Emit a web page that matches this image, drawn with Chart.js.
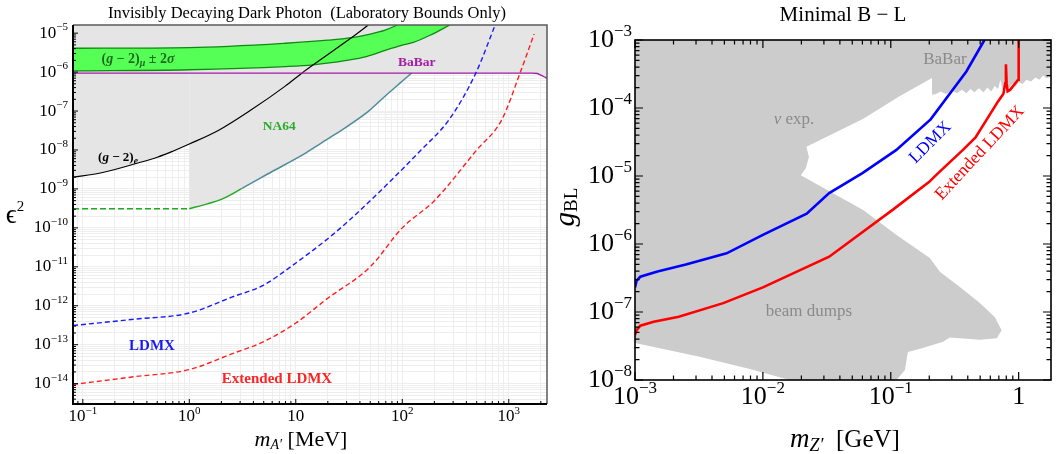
<!DOCTYPE html>
<html>
<head>
<meta charset="utf-8">
<script src="https://cdn.jsdelivr.net/npm/chart.js@4.4.1/dist/chart.umd.min.js"></script>
<style>
  html, body { margin: 0; padding: 0; background: #fff; }
  #wrap { position: relative; width: 1056px; height: 454px; overflow: hidden; }
  canvas { position: absolute; top: 0; }
</style>
</head>
<body>
<div id="wrap">
  <canvas id="darkPhoton" width="552" height="454" style="left:0"></canvas>
  <canvas id="bMinusL" width="504" height="454" style="left:552px"></canvas>
</div>
<script>
// ---------- left panel: eps^2 vs m_A' [MeV] ----------
const leftMassRange = [0.0809, 2285];
const leftEpsRange = [3.29e-15, 1.62e-5];
const leftXTicks = [0.1, 1, 10, 100, 1000];
const leftXTickExp = ['−1', '0', '', '2', '3'];
const leftYTicks = [1e-14, 1e-13, 1e-12, 1e-11, 1e-10, 1e-9, 1e-8, 1e-7, 1e-6, 1e-5];
const leftYTickExp = ['−14', '−13', '−12', '−11', '−10', '−9', '−8', '−7', '−6', '−5'];

// [mass MeV, eps^2]
const babarLine = [[0.0809, 9.4e-7], [1650, 9.4e-7], [1850, 9.2e-7], [1960, 8.6e-7], [2120, 7.7e-7], [2285, 7.0e-7]];
const gm2Electron = [[0.0809, 2.0e-9], [0.15, 2.6e-9], [0.335, 4.7e-9], [0.5, 6.5e-9], [0.7, 9.3e-9], [1, 1.42e-8],
  [1.87, 3.16e-8], [3.85, 1.09e-7], [7.9, 4.3e-7], [11.4, 9.4e-7], [14.6, 1.54e-6], [33.5, 7.7e-6], [48, 1.62e-5]];
const na64Projected = [[0.0809, 3.1e-10], [1, 3.1e-10]];
const na64Bound = [[1, 3.1e-10], [1.5, 4.2e-10], [2, 5.4e-10], [3.1, 1.02e-9], [6, 2.8e-9], [11.8, 7.7e-9], [17.6, 1.55e-8],
  [23.3, 2.5e-8], [48, 9.8e-8], [68.8, 2.4e-7], [95, 5.2e-7], [122, 9.4e-7]];
const gm2MuLower = [[0.0809, 1.07e-6], [1, 1.15e-6], [8, 1.39e-6], [14.6, 1.54e-6], [30, 2.0e-6], [46, 2.5e-6],
  [69, 3.6e-6], [100, 4.9e-6], [127, 5.8e-6], [180, 8.7e-6], [280, 1.62e-5]];
const gm2MuUpper = [[0.0809, 4.1e-6], [1, 4.26e-6], [8, 5.5e-6], [20, 6.6e-6], [33.5, 7.7e-6], [50, 9.5e-6], [69, 1.2e-5], [90, 1.62e-5]];
const ldmxReach = [[0.0809, 3.1e-13], [0.3, 4.5e-13], [1, 6.5e-13], [2.5, 1.66e-12], [5, 3.4e-12], [8.8, 9.7e-12],
  [22.5, 6.9e-11], [46, 4.0e-10], [150, 1.0e-8], [275, 6.0e-8], [490, 9.4e-7], [745, 1.62e-5]];
const extLdmxReach = [[0.0809, 9.5e-15], [0.3, 1.5e-14], [1, 2.3e-14], [2.5, 5.8e-14], [5, 1.2e-13], [10, 3.6e-13],
  [19.6, 1.5e-12], [50, 1.0e-11], [100, 1.0e-10], [200, 5.0e-10], [500, 1.0e-8], [860, 6.0e-8], [1275, 9.4e-7], [1730, 9.5e-6]];

// ---------- right panel: g_BL vs m_Z' [GeV] ----------
const rightMassRange = [1e-3, 1.79];
const rightCouplingRange = [1e-8, 1e-3];
const rightXTicks = [1e-3, 1e-2, 1e-1, 1];
const rightXTickExp = ['−3', '−2', '−1', null];
const rightYTicks = [1e-8, 1e-7, 1e-6, 1e-5, 1e-4, 1e-3];
const rightYTickExp = ['−8', '−7', '−6', '−5', '−4', '−3'];

// [mass GeV, g_BL]
const ldmxBL = [[1e-3, 2.3e-7], [1.03e-3, 2.9e-7], [1.1e-3, 3.3e-7], [1.5e-3, 3.95e-7], [2.5e-3, 5.0e-7], [5.2e-3, 7.3e-7],
  [1e-2, 1.36e-6], [2.2e-2, 2.8e-6], [3.3e-2, 5.6e-6], [6e-2, 1.1e-5], [0.11, 2.4e-5], [0.205, 6.8e-5], [0.39, 3.45e-4], [0.54, 1e-3]];
const extLdmxBL = [[1e-3, 4.6e-8], [1.03e-3, 5.4e-8], [1.1e-3, 6.3e-8], [1.4e-3, 7.2e-8], [2.2e-3, 8.5e-8], [4.9e-3, 1.35e-7],
  [1e-2, 2.3e-7], [3.3e-2, 6.5e-7], [0.104, 3.2e-6], [0.2, 8.2e-6], [0.226, 1.03e-5], [0.365, 2.4e-5], [0.46, 3.7e-5],
  [0.69, 1.25e-4], [0.76, 1.62e-4], [0.785, 2.3e-4], [0.795, 4.4e-4], [0.805, 2.3e-4], [0.82, 1.76e-4], [0.86, 1.86e-4],
  [0.99, 2.6e-4], [1.0, 2.75e-4], [1.0, 1e-3]];
// outline of the grey excluded area (BaBar + nu exp. + beam dumps), walked once round
const excludedBL = [[1e-3, 1e-3], [1.79, 1e-3], [1.79, 2.9e-4],
  [1.65, 2.75e-4], [1.55, 3.0e-4], [1.45, 2.6e-4], [1.35, 2.8e-4], [1.25, 2.45e-4], [1.15, 2.6e-4], [1.07, 2.25e-4],
  [1.0, 2.4e-4], [0.94, 2.05e-4], [0.89, 2.3e-4], [0.84, 1.95e-4], [0.79, 2.2e-4], [0.75, 1.85e-4], [0.72, 2.6e-4],
  [0.69, 1.9e-4], [0.65, 2.1e-4], [0.61, 1.75e-4], [0.57, 2.0e-4], [0.53, 1.7e-4], [0.49, 1.95e-4], [0.45, 1.7e-4],
  [0.42, 1.9e-4], [0.39, 1.65e-4], [0.36, 1.85e-4], [0.33, 1.65e-4], [0.3, 1.8e-4], [0.27, 1.6e-4], [0.245, 1.75e-4],
  [0.225, 1.6e-4], [0.21, 1.57e-4],
  [0.21, 2.76e-4], [0.118, 1.5e-4], [0.0605, 6.9e-5], [0.0219, 2.7e-5], [0.0229, 1.9e-5], [0.0217, 1.31e-5], [0.0198, 1.03e-5],
  [0.0334, 5.9e-6], [0.0608, 3.16e-6], [0.111, 1.36e-6], [0.202, 6.2e-7], [0.242, 3.9e-7], [0.347, 2.33e-7], [0.497, 1.36e-7],
  [0.652, 8.4e-8], [0.736, 5.4e-8], [0.675, 4.1e-8], [0.497, 3.9e-8], [0.29, 4.2e-8], [0.256, 3.65e-8], [0.178, 2.95e-8],
  [0.136, 2.58e-8], [0.129, 1.4e-8], [0.111, 1e-8], [0.0162, 1e-8], [7.9e-3, 1.45e-8], [3.2e-3, 2.2e-8], [1e-3, 3.5e-8]];

const serif = '"Liberation Serif", "DejaVu Serif", serif';
const font = (px, style = '') => `${style} ${px}px ${serif}`.trim();
const xy = pts => pts.map(([x, y]) => ({x, y}));
const none = 'rgba(0,0,0,0)';

function isDecade(v) {
  const l = Math.log10(v);
  return Math.abs(l - Math.round(l)) < 1e-6;
}

function logTicks(scale) {
  const values = [];
  for (let e = Math.floor(Math.log10(scale.min)); e <= Math.ceil(Math.log10(scale.max)); e++) {
    for (let k = 1; k <= 9; k++) {
      const v = k * Math.pow(10, e);
      if (v >= scale.min * 0.9999 && v <= scale.max * 1.0001) values.push({value: v});
    }
  }
  scale.ticks = values;
}

function drawRich(ctx, parts, x, y, align = 'left') {
  const widths = parts.map(([t, f]) => { ctx.font = f; return ctx.measureText(t).width; });
  const total = widths.reduce((s, w) => s + w, 0);
  let cx = align === 'center' ? x - total / 2 : align === 'right' ? x - total : x;
  parts.forEach(([t, f, dy = 0], i) => {
    ctx.font = f;
    ctx.fillText(t, cx, y + dy);
    cx += widths[i];
  });
}

function drawInwardTicks(chart, major, minor, sides, width) {
  const {ctx, chartArea: a, scales: {x, y}} = chart;
  ctx.save();
  ctx.strokeStyle = '#000';
  ctx.lineWidth = width;
  ctx.beginPath();
  for (const t of x.ticks) {
    const px = x.getPixelForValue(t.value);
    const len = isDecade(t.value) ? major : minor;
    if (sides.includes('bottom')) { ctx.moveTo(px, a.bottom); ctx.lineTo(px, a.bottom - len); }
    if (sides.includes('top')) { ctx.moveTo(px, a.top); ctx.lineTo(px, a.top + len); }
  }
  for (const t of y.ticks) {
    const py = y.getPixelForValue(t.value);
    const len = isDecade(t.value) ? major : minor;
    if (sides.includes('left')) { ctx.moveTo(a.left, py); ctx.lineTo(a.left + len, py); }
    if (sides.includes('right')) { ctx.moveTo(a.right, py); ctx.lineTo(a.right - len, py); }
  }
  ctx.stroke();
  ctx.restore();
}

function drawNotes(chart, notes) {
  const {ctx, scales: {x, y}} = chart;
  for (const n of notes) {
    ctx.save();
    ctx.translate(x.getPixelForValue(n.at[0]), y.getPixelForValue(n.at[1]));
    if (n.angle) ctx.rotate(n.angle * Math.PI / 180);
    ctx.fillStyle = n.color;
    drawRich(ctx, n.parts, 0, 0, 'center');
    ctx.restore();
  }
}

const leftNotes = [
  {at: [0.33, 2.07e-6], color: '#1f6b1f', parts: [['(', font(14, 'bold')], ['g', font(14, 'bold italic')], [' − 2)', font(14, 'bold')],
    ['μ', font(10, 'bold italic'), 4], [' ± 2', font(14, 'bold')], ['σ', font(14, 'bold italic')]]},
  {at: [137, 1.73e-6], color: '#a21ea2', parts: [['BaBar', font(13.5, 'bold')]]},
  {at: [7.0, 4.0e-8], color: '#2bab2b', parts: [['NA64', font(13.5, 'bold')]]},
  {at: [0.214, 6.5e-9], color: '#000', parts: [['(', font(13, 'bold')], ['g', font(13, 'bold italic')], [' − 2)', font(13, 'bold')],
    ['e', font(9.5, 'bold italic'), 4]]},
  {at: [0.446, 9.3e-14], color: '#1a1aee', parts: [['LDMX', font(15, 'bold')]]},
  {at: [6.66, 1.27e-14], color: '#ff2424', parts: [['Extended LDMX', font(15, 'bold')]]}
];

const rightNotes = [
  {at: [0.265, 5.1e-4], color: '#8a8a8a', parts: [['BaBar', font(17)]]},
  {at: [0.0175, 6.7e-5], color: '#8a8a8a', parts: [['ν', font(17, 'italic')], [' exp.', font(17)]]},
  {at: [0.0229, 1e-7], color: '#8a8a8a', parts: [['beam dumps', font(17)]]},
  {at: [0.204, 3.1e-5], angle: -45, color: '#0000ff', parts: [['LDMX', font(17.5)]]},
  {at: [0.498, 2.18e-5], angle: -47, color: '#ff0000', parts: [['Extended LDMX', font(17.5)]]}
];

const leftDecor = {
  id: 'leftDecor',
  afterDraw(chart) {
    const {ctx, chartArea: a, scales: {x, y}} = chart;
    drawInwardTicks(chart, 5, 3, ['bottom', 'left'], 1);
    ctx.save();
    ctx.strokeStyle = '#5a5a5a';
    ctx.lineWidth = 1.5;
    ctx.beginPath();
    ctx.moveTo(a.left, a.top); ctx.lineTo(a.right, a.top); ctx.lineTo(a.right, a.bottom);
    ctx.stroke();
    ctx.strokeStyle = '#000';
    ctx.lineWidth = 2;
    ctx.beginPath();
    ctx.moveTo(a.left, a.top); ctx.lineTo(a.left, a.bottom); ctx.lineTo(a.right, a.bottom);
    ctx.stroke();

    ctx.textAlign = 'left';
    ctx.textBaseline = 'middle';
    ctx.fillStyle = '#000';
    leftXTicks.forEach((v, i) => {
      drawRich(ctx, [['10', font(17)], [leftXTickExp[i], font(11), -6]], x.getPixelForValue(v), a.bottom + 13, 'center');
    });
    leftYTicks.forEach((v, i) => {
      drawRich(ctx, [['10', font(17)], [leftYTickExp[i], font(11), -6]], a.left - 5, y.getPixelForValue(v), 'right');
    });
    drawRich(ctx, [['Invisibly Decaying Dark Photon  (Laboratory Bounds Only)', font(16.5)]], 307, 14, 'center');
    drawRich(ctx, [['m', font(22, 'italic')], ['A′', font(14, 'italic'), 5], [' [MeV]', font(22)]], 301, 440, 'center');
    drawRich(ctx, [['ϵ', font(27)], ['2', font(15), -9]], 15, 216, 'center');
    drawNotes(chart, leftNotes);
    ctx.restore();
  }
};

const rightDecor = {
  id: 'rightDecor',
  afterDraw(chart) {
    const {ctx, chartArea: a, scales: {x, y}} = chart;
    drawInwardTicks(chart, 8, 4.5, ['bottom', 'top', 'left', 'right'], 1.2);
    ctx.save();
    ctx.strokeStyle = '#000';
    ctx.lineWidth = 1.6;
    ctx.strokeRect(a.left, a.top, a.right - a.left, a.bottom - a.top);

    ctx.textAlign = 'left';
    ctx.textBaseline = 'middle';
    ctx.fillStyle = '#000';
    rightXTicks.forEach((v, i) => {
      const parts = rightXTickExp[i] === null ? [['1', font(26)]] : [['10', font(26)], [rightXTickExp[i], font(17), -8]];
      drawRich(ctx, parts, x.getPixelForValue(v), a.bottom + 17, 'center');
    });
    rightYTicks.forEach((v, i) => {
      drawRich(ctx, [['10', font(26)], [rightYTickExp[i], font(17), -8]], a.left - 3, y.getPixelForValue(v), 'right');
    });
    const cx = (a.left + a.right) / 2;
    drawRich(ctx, [['Minimal B − L', font(21)]], cx, 15, 'center');
    drawRich(ctx, [['m', font(27, 'italic')], ['Z′', font(18, 'italic'), 6], ['  [GeV]', font(25)]], cx + 2, 440, 'center');
    ctx.save();
    ctx.translate(14, 207);
    ctx.rotate(-Math.PI / 2);
    drawRich(ctx, [['g', font(29, 'italic')], ['BL', font(19), 6]], 0, 0, 'center');
    ctx.restore();
    drawNotes(chart, rightNotes);
    ctx.restore();
  }
};

function logAxis(range, size, isX, gridColor) {
  return {
    type: 'logarithmic',
    min: range[0],
    max: range[1],
    afterBuildTicks: logTicks,
    afterFit: s => { if (isX) s.height = size; else s.width = size; },
    ticks: {display: false},
    grid: gridColor ? {color: gridColor, drawTicks: false, lineWidth: 1} : {display: false, drawTicks: false},
    border: {display: false}
  };
}

const lineDefaults = {pointRadius: 0, pointHitRadius: 0, fill: false, cubicInterpolationMode: 'monotone'};
const greyLeft = '#e5e5e5';

new Chart(document.getElementById('darkPhoton'), {
  type: 'line',
  data: {
    datasets: [
      {...lineDefaults, data: xy(babarLine), borderColor: none, borderWidth: 0, backgroundColor: greyLeft, fill: 'end', order: 30},
      {...lineDefaults, data: xy(gm2Electron.filter(p => p[0] <= 1)), borderColor: none, borderWidth: 0, backgroundColor: greyLeft, fill: 'end', order: 29},
      {...lineDefaults, data: xy(na64Bound), borderColor: none, borderWidth: 0, backgroundColor: greyLeft, fill: 'end', order: 28},
      {...lineDefaults, data: xy(gm2MuLower), borderColor: '#0f8a0f', borderWidth: 1.3, backgroundColor: '#55ff55', fill: 'end', order: 22},
      {...lineDefaults, data: xy(gm2MuUpper), borderColor: '#0f8a0f', borderWidth: 1.3, backgroundColor: greyLeft, fill: 'end', order: 21},
      {...lineDefaults, data: xy(na64Projected), borderColor: '#22aa22', borderWidth: 1.5, borderDash: [6, 3], order: 10},
      {...lineDefaults, data: xy(na64Bound), borderColor: '#22aa22', borderWidth: 1.5, order: 9,
        segment: {borderColor: c => c.p0.parsed.x < 3.05 ? '#22aa22' : '#4f8c9c'}},
      {...lineDefaults, data: xy(gm2Electron), borderColor: '#000', borderWidth: 1.2, order: 8},
      {...lineDefaults, data: xy(babarLine), borderColor: '#a51aa5', borderWidth: 1.3, order: 7},
      {...lineDefaults, data: xy(ldmxReach), borderColor: '#1a1aff', borderWidth: 1.4, borderDash: [5, 3], order: 5},
      {...lineDefaults, data: xy(extLdmxReach), borderColor: '#ff1f1f', borderWidth: 1.4, borderDash: [5, 3], order: 4}
    ]
  },
  options: {
    responsive: false,
    devicePixelRatio: 1,
    animation: false,
    events: [],
    layout: {padding: {left: 0, right: 5, top: 25, bottom: 0}},
    scales: {
      x: logAxis(leftMassRange, 50, true, '#eeeeee'),
      y: logAxis(leftEpsRange, 73, false, '#eeeeee')
    },
    plugins: {legend: {display: false}, tooltip: {enabled: false}, title: {display: false}}
  },
  plugins: [leftDecor]
});

new Chart(document.getElementById('bMinusL'), {
  type: 'line',
  data: {
    datasets: [
      {pointRadius: 0, data: xy(excludedBL), borderColor: none, borderWidth: 0, backgroundColor: '#cccccc', fill: 'shape', tension: 0, order: 20},
      {pointRadius: 0, data: xy(ldmxBL), borderColor: '#0000ff', borderWidth: 2.6, fill: false, tension: 0, order: 2},
      {pointRadius: 0, data: xy(extLdmxBL), borderColor: '#ff0000', borderWidth: 2.6, fill: false, tension: 0, order: 1}
    ]
  },
  options: {
    responsive: false,
    devicePixelRatio: 1,
    animation: false,
    events: [],
    layout: {padding: {left: 0, right: 5, top: 40, bottom: 0}},
    scales: {
      x: logAxis(rightMassRange, 74, true, null),
      y: logAxis(rightCouplingRange, 83, false, null)
    },
    plugins: {legend: {display: false}, tooltip: {enabled: false}, title: {display: false}}
  },
  plugins: [rightDecor]
});
</script>
</body>
</html>
